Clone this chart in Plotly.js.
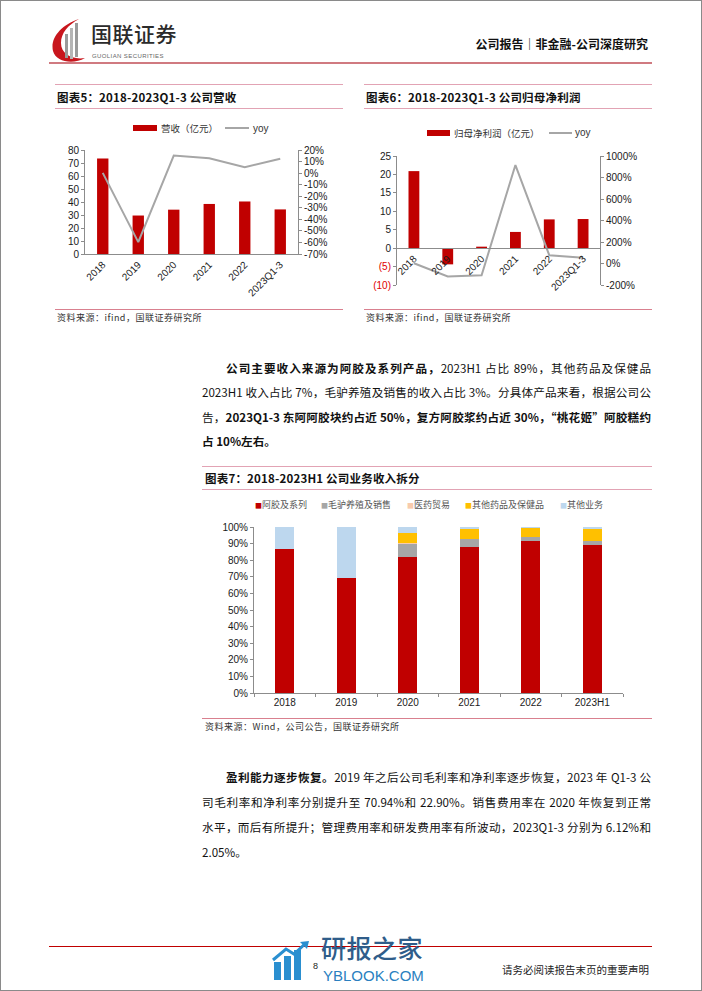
<!DOCTYPE html>
<html><head><meta charset="utf-8">
<script src="https://cdn.plot.ly/plotly-3.0.1.min.js"></script>
<style>
html,body{margin:0;padding:0;background:#fff;}
#page{position:relative;width:702px;height:991px;overflow:hidden;background:#fff;font-family:"Noto Sans CJK SC","Noto Sans",sans-serif;color:#111;}
#border{position:absolute;left:0;top:0;width:700px;height:989px;border:1px solid #8a8a8a;}
.abs{position:absolute;}
.hl{position:absolute;height:0;border-top:1.5px solid #e2a3b4;}
.ctitle{position:absolute;font-size:11.5px;font-weight:700;white-space:nowrap;letter-spacing:0.2px;}
.src{position:absolute;font-size:9px;color:#333;white-space:nowrap;letter-spacing:0.5px;}
.ln{position:absolute;font-size:11.6px;line-height:16px;height:16px;text-align:justify;text-align-last:justify;white-space:normal;overflow:visible;}
.ln.last{text-align-last:left;}
.b{font-weight:700;}
</style></head>
<body><div id="page">
<div id="border"></div>

<!-- header -->
<svg class="abs" style="left:48px;top:18px" width="42" height="46" viewBox="0 0 42 46">
  <path d="M31,1 C13,7 2,20 5,33 C8,44 25,47 37,40 C24,42 13,36 13,25 C13,15 20,7 31,1 Z" fill="#c8161d"/>
  <rect x="17" y="16" width="3" height="24" fill="#9a9a9a"/>
  <rect x="22" y="10" width="3" height="31" fill="#b5b5b5"/>
  <rect x="27" y="5" width="3" height="34" fill="#9a9a9a"/>
</svg>
<div class="abs" style="left:91px;top:22px;font-size:21px;line-height:22px;font-weight:500;color:#2b2b2b;letter-spacing:0.5px;white-space:nowrap;">国联证券</div>
<div class="abs" style="left:92px;top:53px;font-size:6px;line-height:7px;color:#666;letter-spacing:0.4px;font-family:'Liberation Sans';white-space:nowrap;">GUOLIAN SECURITIES</div>
<div class="abs" style="right:54px;top:35px;font-size:12px;font-weight:700;color:#111;white-space:nowrap;">公司报告｜非金融-公司深度研究</div>
<div class="abs" style="left:49px;top:62px;width:603px;height:0;border-top:2.5px solid #d07a80;"></div>

<!-- chart 5 frame -->
<div class="hl" style="left:55px;top:84px;width:288px;"></div>
<div class="ctitle" style="left:57px;top:89px;">图表5：2018-2023Q1-3 公司营收</div>
<div class="hl" style="left:55px;top:108px;width:288px;"></div>
<div id="c5" class="abs" style="left:55px;top:110px;width:290px;height:196px;"></div>
<div class="hl" style="left:55px;top:309px;width:288px;border-top-color:#d9808f;"></div>
<div class="src" style="left:57px;top:311px;">资料来源：ifind，国联证券研究所</div>

<!-- chart 6 frame -->
<div class="hl" style="left:364px;top:84px;width:288px;"></div>
<div class="ctitle" style="left:366px;top:89px;">图表6：2018-2023Q1-3 公司归母净利润</div>
<div class="hl" style="left:364px;top:108px;width:288px;"></div>
<div id="c6" class="abs" style="left:362px;top:110px;width:292px;height:196px;"></div>
<div class="hl" style="left:364px;top:309px;width:288px;border-top-color:#d9808f;"></div>
<div class="src" style="left:366px;top:311px;">资料来源：ifind，国联证券研究所</div>

<!-- paragraph 1 -->
<div class="ln" style="left:226px;top:360px;width:425px;"><span class="b">公司主要收入来源为阿胶及系列产品，</span>2023H1 占比 89%，其他药品及保健品</div>
<div class="ln" style="left:202px;top:384px;width:449px;">2023H1 收入占比 7%，毛驴养殖及销售的收入占比 3%。分具体产品来看，根据公司公</div>
<div class="ln" style="left:202px;top:409px;width:449px;">告，<span class="b">2023Q1-3 东阿阿胶块约占近 50%，复方阿胶浆约占近 30%，“桃花姬”阿胶糕约</span></div>
<div class="ln last b" style="left:202px;top:433px;width:449px;">占 10%左右。</div>

<!-- chart 7 frame -->
<div class="hl" style="left:202px;top:466px;width:450px;"></div>
<div class="ctitle" style="left:205px;top:470px;">图表7：2018-2023H1 公司业务收入拆分</div>
<div class="hl" style="left:202px;top:489px;width:450px;"></div>
<div id="c7" class="abs" style="left:202px;top:490px;width:450px;height:226px;"></div>
<div class="hl" style="left:202px;top:718px;width:450px;border-top-color:#d9808f;"></div>
<div class="src" style="left:205px;top:720px;">资料来源：Wind，公司公告，国联证券研究所</div>

<!-- paragraph 2 -->
<div class="ln" style="left:226px;top:769px;width:425px;"><span class="b">盈利能力逐步恢复。</span>2019 年之后公司毛利率和净利率逐步恢复，2023 年 Q1-3 公</div>
<div class="ln" style="left:202px;top:794px;width:449px;">司毛利率和净利率分别提升至 70.94%和 22.90%。销售费用率在 2020 年恢复到正常</div>
<div class="ln" style="left:202px;top:819px;width:449px;">水平，而后有所提升；管理费用率和研发费用率有所波动，2023Q1-3 分别为 6.12%和</div>
<div class="ln last" style="left:202px;top:844px;width:449px;">2.05%。</div>

<!-- footer -->
<div class="abs" style="left:49px;top:946px;width:603px;height:0;border-top:1px solid #c00000;"></div>
<svg class="abs" style="left:272px;top:940px" width="40" height="42" viewBox="0 0 40 42">
  <rect x="2" y="22" width="7" height="18" fill="#2a8fd0"/>
  <rect x="12" y="16" width="7" height="24" fill="#2a8fd0"/>
  <rect x="22" y="10" width="7" height="30" fill="#2a8fd0"/>
  <path d="M1,20 L14,9 L22,14 L34,3" stroke="#2a8fd0" stroke-width="3" fill="none"/>
  <path d="M28,2 L37,1 L35,9 Z" fill="#2a8fd0"/>
</svg>
<div class="abs" style="left:321px;top:934px;font-size:25px;line-height:26px;font-weight:500;color:#2f5d8a;letter-spacing:0.5px;white-space:nowrap;">研报之家</div>
<div class="abs" style="left:313px;top:962px;font-size:9px;line-height:9px;color:#222;font-family:'Liberation Sans';">8</div>
<div class="abs" style="left:323px;top:969px;font-size:15px;line-height:14px;color:#2a7fc0;font-family:'Liberation Sans';white-space:nowrap;">YBLOOK.COM</div>
<div class="abs" style="right:53px;top:962px;font-size:10.5px;color:#222;white-space:nowrap;">请务必阅读报告末页的重要声明</div>
</div>

<script>
// ---------- data ----------
const cats5 = ['2018','2019','2020','2021','2022','2023Q1-3'];
const revenue5 = [73.4, 29.6, 34.1, 38.5, 40.4, 34.3];
const revenueYoy5 = [0.2, -59.7, 15.2, 12.8, 5.1, 12.5];
const yTicks5 = [0,10,20,30,40,50,60,70,80];
const y2Ticks5 = [-70,-60,-50,-40,-30,-20,-10,0,10,20];

const cats6 = ['2018','2019','2020','2021','2022','2023Q1-3'];
const netProfit6 = [20.9, -4.4, 0.4, 4.4, 7.8, 7.9];
const profitYoy6 = [2, -121, -110, 916, 77, 54];
const yTicks6 = [-10,-5,0,5,10,15,20,25];
const yTickText6 = ['<span style="color:#e00000">(10)</span>','<span style="color:#e00000">(5)</span>','0','5','10','15','20','25'];
const y2Ticks6 = [-200,0,200,400,600,800,1000];

const cats7 = ['2018','2019','2020','2021','2022','2023H1'];
const seriesNames7 = ['阿胶及系列','毛驴养殖及销售','医药贸易','其他药品及保健品','其他业务'];
const ejiao7 = [86.5, 69.1, 81.7, 88.1, 91.6, 89.0];
const donkey7 = [0, 0, 8.2, 4.5, 2.2, 2.8];
const trade7 = [0.5, 0, 0.4, 0, 0, 0];
const otherDrug7 = [0, 0, 6.3, 6.0, 5.4, 7.0];
const otherBiz7 = [13.0, 30.9, 3.4, 1.4, 0.8, 1.2];
const yTicks7 = [0,10,20,30,40,50,60,70,80,90,100];

const RED = '#c00000', GRAY_LINE = '#a6a6a6', AXIS = '#8c8c8c';
const FONT = {family:'"Liberation Sans", Arial, sans-serif', size:10, color:'#1a1a1a'};
const CJK = '"Noto Sans CJK SC", sans-serif';
const cfg = {staticPlot:true, displayModeBar:false};
const pct = v => v + '%';

// px helpers for legend placement (layout only)
function mk(pl, pt, pw, ph){ return {x:p=>(p-pl)/pw, y:p=>(pt+ph-p)/ph}; }

// ---------- chart 5 ----------
(function(){
  const W=290,H=196, L=30, T=40, R=47, B=52;
  const pw=W-L-R, ph=H-T-B;
  const m = mk(55+L, 110+T, pw, ph);
  Plotly.newPlot('c5', [
    {type:'bar', x:cats5, y:revenue5, marker:{color:RED}, width:0.32, name:'营收（亿元）'},
    {type:'scatter', mode:'lines', x:cats5, y:revenueYoy5, yaxis:'y2', line:{color:GRAY_LINE,width:2}, name:'yoy'}
  ], {
    width:W, height:H, margin:{l:L,r:R,t:T,b:B,pad:0},
    paper_bgcolor:'rgba(0,0,0,0)', plot_bgcolor:'rgba(0,0,0,0)',
    showlegend:false, font:FONT,
    xaxis:{type:'category', tickangle:-45, showline:true, linecolor:AXIS, linewidth:1, ticks:'', showgrid:false, tickfont:{size:10}, automargin:false},
    yaxis:{range:[0,80], tickmode:'array', tickvals:yTicks5, ticktext:yTicks5.map(String), showline:true, linecolor:AXIS, ticks:'outside', ticklen:3, tickcolor:AXIS, showgrid:false, zeroline:false, automargin:false},
    yaxis2:{range:[-70,20], tickmode:'array', tickvals:y2Ticks5, ticktext:y2Ticks5.map(pct), overlaying:'y', side:'right', showline:true, linecolor:AXIS, ticks:'outside', ticklen:3, tickcolor:AXIS, showgrid:false, zeroline:false, automargin:false},
    shapes:[
      {type:'rect', xref:'paper', yref:'paper', x0:m.x(133), x1:m.x(157), y0:m.y(131), y1:m.y(125), fillcolor:RED, line:{width:0}},
      {type:'line', xref:'paper', yref:'paper', x0:m.x(225), x1:m.x(249), y0:m.y(128), y1:m.y(128), line:{color:GRAY_LINE,width:2}}
    ],
    annotations:[
      {xref:'paper', yref:'paper', x:m.x(159), y:m.y(128), xanchor:'left', yanchor:'middle', text:'营收（亿元）', showarrow:false, font:{family:CJK, size:9.5, color:'#333'}},
      {xref:'paper', yref:'paper', x:m.x(251), y:m.y(128), xanchor:'left', yanchor:'middle', text:'yoy', showarrow:false, font:{size:10, color:'#333'}}
    ]
  }, cfg);
})();

// ---------- chart 6 ----------
(function(){
  const W=292,H=196, L=35, T=46, R=54, B=21;
  const pw=W-L-R, ph=H-T-B;
  const m = mk(362+L, 110+T, pw, ph);
  const zeroPos = (0 - yTicks6[0])/(yTicks6[yTicks6.length-1]-yTicks6[0]);
  Plotly.newPlot('c6', [
    {type:'bar', x:cats6, y:netProfit6, marker:{color:RED}, width:0.32, name:'归母净利润（亿元）'},
    {type:'scatter', mode:'lines', x:cats6, y:profitYoy6, yaxis:'y2', line:{color:GRAY_LINE,width:2}, name:'yoy'}
  ], {
    width:W, height:H, margin:{l:L,r:R,t:T,b:B,pad:0},
    paper_bgcolor:'rgba(0,0,0,0)', plot_bgcolor:'rgba(0,0,0,0)',
    showlegend:false, font:FONT,
    xaxis:{type:'category', anchor:'free', position:zeroPos, tickangle:-45, showline:true, linecolor:AXIS, ticks:'', showgrid:false, tickfont:{size:10}, automargin:false},
    yaxis:{range:[-10,25], tickmode:'array', tickvals:yTicks6, ticktext:yTickText6, showline:true, linecolor:AXIS, ticks:'outside', ticklen:3, tickcolor:AXIS, showgrid:false, zeroline:false, automargin:false},
    yaxis2:{range:[-200,1000], tickmode:'array', tickvals:y2Ticks6, ticktext:y2Ticks6.map(pct), overlaying:'y', side:'right', showline:true, linecolor:AXIS, ticks:'outside', ticklen:3, tickcolor:AXIS, showgrid:false, zeroline:false, automargin:false},
    shapes:[
      {type:'rect', xref:'paper', yref:'paper', x0:m.x(427), x1:m.x(450), y0:m.y(136), y1:m.y(130), fillcolor:RED, line:{width:0}},
      {type:'line', xref:'paper', yref:'paper', x0:m.x(549), x1:m.x(572), y0:m.y(133), y1:m.y(133), line:{color:GRAY_LINE,width:2}}
    ],
    annotations:[
      {xref:'paper', yref:'paper', x:m.x(452), y:m.y(133), xanchor:'left', yanchor:'middle', text:'归母净利润（亿元）', showarrow:false, font:{family:CJK, size:9.5, color:'#333'}},
      {xref:'paper', yref:'paper', x:m.x(573), y:m.y(133), xanchor:'left', yanchor:'middle', text:'yoy', showarrow:false, font:{size:10, color:'#333'}}
    ]
  }, cfg);
})();

// ---------- chart 7 ----------
(function(){
  const W=450,H=226, L=52, T=37, R=29, B=23;
  const pw=W-L-R, ph=H-T-B;
  const m = mk(202+L, 490+T, pw, ph);
  const cols = [RED, '#a6a6a6', '#f8cbad', '#ffc000', '#bdd7ee'];
  const vals = [ejiao7, donkey7, trade7, otherDrug7, otherBiz7];
  const traces = seriesNames7.map((n,i)=>({type:'bar', x:cats7, y:vals[i], name:n, marker:{color:cols[i]}, width:0.31}));
  const legX = [253, 319, 405, 463, 558];
  const ann = seriesNames7.map((n,i)=>({xref:'paper', yref:'paper', x:m.x(legX[i]), y:m.y(505), xanchor:'left', yanchor:'middle', showarrow:false,
      text:'<span style="color:'+cols[i]+';font-size:7px">■</span>'+n, font:{family:CJK, size:9, color:'#555'}}));
  Plotly.newPlot('c7', traces, {
    width:W, height:H, margin:{l:L,r:R,t:T,b:B,pad:0}, barmode:'stack',
    paper_bgcolor:'rgba(0,0,0,0)', plot_bgcolor:'rgba(0,0,0,0)',
    showlegend:false, font:FONT,
    xaxis:{type:'category', showline:true, linecolor:AXIS, ticks:'outside', tickson:'boundaries', ticklen:3, tickcolor:AXIS, showgrid:false, tickfont:{size:10}, automargin:false},
    yaxis:{range:[0,100], tickmode:'array', tickvals:yTicks7, ticktext:yTicks7.map(pct), showline:true, linecolor:AXIS, ticks:'outside', ticklen:3, tickcolor:AXIS, showgrid:false, zeroline:false, automargin:false},
    annotations: ann
  }, cfg);
})();
</script>
</body></html>
